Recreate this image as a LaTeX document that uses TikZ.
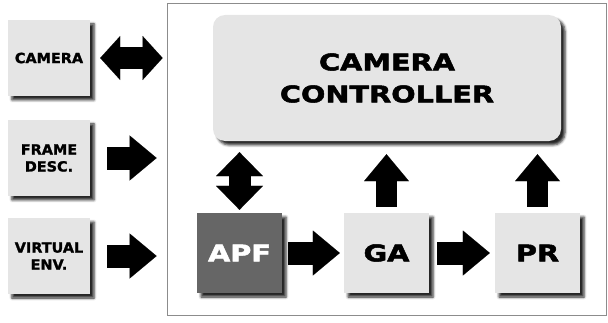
\documentclass[tikz,border=0pt]{standalone}
\usepackage{fontspec}
\newfontfamily\boxfont[FakeStretch=1.03,FakeBold=1.6]{DejaVu Sans Bold}
\newfontfamily\bigfont[FakeStretch=1.25,FakeBold=2.2]{DejaVu Sans Bold}
\usetikzlibrary{arrows.meta,shadows.blur}
\begin{document}
\begin{tikzpicture}[x=1pt,y=1pt,
  box/.style={fill=black!10, minimum width=82pt, minimum height=76pt, align=center,
    font=\boxfont\fontsize{14}{17}\selectfont,
    blur shadow={shadow xshift=4pt, shadow yshift=-4pt, shadow blur radius=2.5pt, shadow opacity=85}},
  unit/.style={box, minimum width=85pt, minimum height=80pt, font=\bigfont\fontsize{23}{32}\selectfont},
  fat/.style={line width=23pt, -{Triangle[length=27pt,width=45pt,line width=0.01pt]}},
  fatboth/.style={line width=22pt, {Triangle[length=20pt,width=44pt,line width=0.01pt]}-{Triangle[length=20pt,width=44pt,line width=0.01pt]}}]
\useasboundingbox (0,0) rectangle (608,322);
\node[draw=black!45, line width=0.8pt, minimum width=439pt, minimum height=312pt] (sys) at (386.5,163) {};
\node[box] (cam) at (49,264) {CAMERA};
\node[box] (frm) at (49,164) {FRAME\\DESC.};
\node[box] (env) at (49,66) {VIRTUAL\\ENV.};
\node[unit, rounded corners=12pt, minimum width=348pt, minimum height=126pt] (ctrl) at (387,244) {CAMERA\\CONTROLLER};
\node[unit, fill=black!60, text=white] (apf) at (239.5,69) {APF};
\node[unit] (ga) at (386.5,69) {GA};
\node[unit] (pr) at (537.5,69) {PR};
\draw[fatboth] ([xshift=10pt]cam.east) -- ([xshift=-4pt]cam.east -| sys.west);
\draw[fat] ([xshift=17pt]frm.east) -- ([xshift=-10pt]frm.east -| sys.west);
\draw[fat] ([xshift=17pt]env.east) -- ([xshift=-10pt]env.east -| sys.west);
\draw[line width=22pt, {Triangle[length=24pt,width=47pt,line width=0.01pt]}-{Triangle[length=24pt,width=47pt,line width=0.01pt]}] ([yshift=3pt]apf.north) -- ([yshift=-11pt]apf.north |- ctrl.south);
\draw[fat, line width=21pt] ([yshift=6pt]ga.north) -- ([yshift=-13pt]ga.north |- ctrl.south);
\draw[fat, line width=21pt] ([yshift=6pt]pr.north) -- ([yshift=-13pt]pr.north |- ctrl.south);
\draw[fat] ([xshift=6pt]apf.east) -- ([xshift=-4pt]ga.west);
\draw[fat] ([xshift=8pt]ga.east) -- ([xshift=-5pt]pr.west);
\end{tikzpicture}
\end{document}
